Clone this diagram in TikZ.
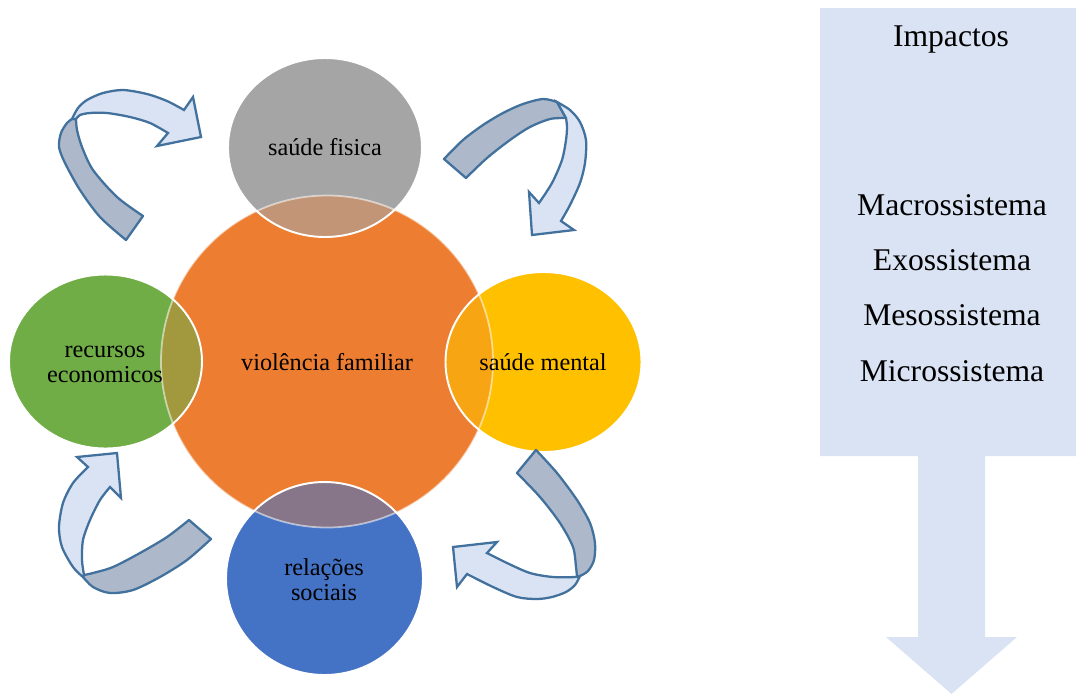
\documentclass[tikz,border=0pt]{standalone}
\usepackage{fontspec}
\setmainfont{Liberation Serif}
\definecolor{orng}{RGB}{237,125,49}
\definecolor{grayc}{RGB}{165,165,165}
\definecolor{yell}{RGB}{255,192,0}
\definecolor{bluec}{RGB}{68,114,196}
\definecolor{greenc}{RGB}{112,173,71}
\definecolor{boxblue}{RGB}{218,227,243}
\definecolor{arrback}{RGB}{173,185,202}
\definecolor{arrfront}{RGB}{218,227,243}
\definecolor{arrline}{RGB}{65,113,156}
\tikzset{
  backpart/.style={fill=arrback, draw=arrline, line width=1.3pt, line join=round},
  frontpart/.style={fill=arrfront, draw=arrline, line width=1.3pt, line join=miter},
  ctext/.style={font=\fontsize{13.8}{14.3}\selectfont, align=center, inner sep=0pt, text=black},
  btext/.style={font=\fontsize{18}{20}\selectfont, inner sep=0pt, text=black},
  ring/.style={draw=white, line width=1.1pt},
}
\begin{document}
\begin{tikzpicture}[x=0.02cm,y=-0.02cm]
\useasboundingbox (0,0) rectangle (1076,694);
% right block arrow
\fill[boxblue] (820,8) -- (1076,8) -- (1076,456) -- (985,456) -- (985,637) -- (1017,637) -- (951.5,694) -- (886,637) -- (918,637) -- (918,456) -- (820,456) -- cycle;
\node[btext] (imp) at (951,40) {Impactos};
\node[btext] (mac) at (952,205) {Macrossistema};
\node[btext] (exo) at (952,260) {Exossistema};
\node[btext] (mes) at (952,315) {Mesossistema};
\node[btext] (mic) at (952,371) {Microssistema};
% circles
\def\OC{(327,361.5) circle[radius=166]}
\def\GC{(325,147.5) ellipse[x radius=97, y radius=89.5]}
\def\LC{(105.5,361.5) ellipse[x radius=96.5, y radius=87]}
\def\YC{(543.5,362) ellipse[x radius=98, y radius=90]}
\def\BC{(324.5,578.5) ellipse[x radius=98.5, y radius=96.5]}
\fill[orng] \OC;
\fill[grayc] \GC;
\fill[greenc] \LC;
\fill[yell] \YC;
\fill[bluec] \BC;
\begin{scope}\clip \GC; \fill[orng, opacity=0.4] \OC; \end{scope}
\begin{scope}\clip \LC; \fill[orng, opacity=0.4] \OC; \end{scope}
\begin{scope}\clip \YC; \fill[orng, opacity=0.4] \OC; \end{scope}
\begin{scope}\clip \BC; \fill[orng, opacity=0.4] \OC; \end{scope}
\draw[white, opacity=0.55, line width=1pt] \OC;
\draw[ring] \GC;
\draw[ring] \LC;
\draw[ring] \YC;
\draw[ring] \BC;
\node[ctext] (vf) at (327,362) {violência familiar};
\node[ctext] (sf) at (325,147) {saúde fisica};
\node[ctext] (sm) at (543,362) {saúde mental};
\node[ctext] (re) at (105,364) {recursos\\economicos};
\node[ctext] (rs) at (324,580) {relações\\sociais};
% top-left curved arrow
\path[backpart] plot[smooth] coordinates {(126,240) (100,217) (80,190) (65,163) (59,147) (61,133) (67,123) (72,119)} -- plot[smooth] coordinates {(76,119) (77,130) (82,147) (93,170) (117,197) (143,216)} -- cycle;
\path[frontpart] plot[smooth] coordinates {(72,119) (78,108) (87,100) (103,93) (123,90) (147,94) (167,101) (184,110)} -- (193,97) -- (201,137) -- (157,146) -- (168,133) -- plot[smooth] coordinates {(168,133) (150,123) (130,117) (107,113) (90,113) (80,115) (76,119)} -- cycle;
% top-right curved arrow
\path[backpart] plot[smooth] coordinates {(444,159) (463,140) (483,125) (503,113) (523,104) (543,99) (557,102)} -- plot[smooth] coordinates {(566,118) (550,119) (530,127) (510,140) (487,158) (466,178)} -- cycle;
\path[frontpart] plot[smooth] coordinates {(557,102) (570,110) (580,122) (586,140) (585,163) (580,183) (570,205) (561,221)} -- (574,230) -- (532,235) -- (529,192) -- (539,203) -- plot[smooth] coordinates {(539,203) (552,183) (562,160) (566,140) (567,127) (566,118)} -- cycle;
% bottom-right curved arrow
\path[backpart] plot[smooth] coordinates {(536,450) (557,473) (577,500) (590,523) (595,543) (594,560) (588,571) (580,576)} -- plot[smooth] coordinates {(577,577) (576,567) (573,547) (560,523) (540,497) (517,473)} -- cycle;
\path[frontpart] plot[smooth] coordinates {(580,576) (575,585) (566,592) (552,597) (537,599) (517,597) (493,587) (467,574)} -- (457,587) -- (453,547) -- (497,542) -- (487,553) -- plot[smooth] coordinates {(487,553) (507,563) (530,573) (553,577) (577,577)} -- cycle;
% bottom-left curved arrow
\path[backpart] plot[smooth] coordinates {(211,539) (187,560) (160,577) (133,590) (110,593) (93,587) (83,577)} -- plot[smooth] coordinates {(84,575) (93,573) (113,567) (140,553) (167,537) (189,520)} -- cycle;
\path[frontpart] plot[smooth] coordinates {(83,577) (73,567) (62,547) (59,527) (63,503) (73,483) (88,467)} -- (77,457) -- (117,453) -- (121,498) -- (110,487) -- plot[smooth] coordinates {(110,487) (100,500) (90,520) (83,540) (82,560) (84,575)} -- cycle;
\end{tikzpicture}
\end{document}
